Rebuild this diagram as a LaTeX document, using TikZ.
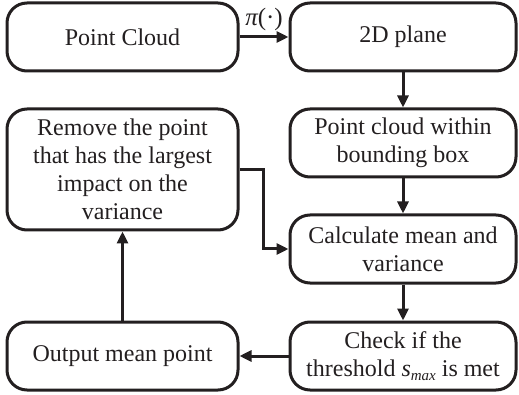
\documentclass[tikz,border=0pt]{standalone}
\usepackage{fontspec}
\setmainfont{Liberation Serif}
\usetikzlibrary{arrows.meta}
\definecolor{ink}{RGB}{35,31,32}
\begin{document}
\begin{tikzpicture}[x=1pt,y=-1pt,
  box/.style={draw=ink, line width=3pt, rounded corners=20pt, text=ink,
    align=center, inner sep=0pt, font=\fontsize{24}{28}\selectfont},
  lbox/.style={box, minimum width=231pt, minimum height=68pt},
  rbox/.style={box, minimum width=226pt, minimum height=68pt},
  flow/.style={draw=ink, line width=3pt,
    -{Triangle[length=12pt,width=11pt]}}]
\useasboundingbox (0,0) rectangle (519,395);

\node[lbox] (pc)     at (122.5,37) {Point Cloud};
\node[rbox] (plane)  at (403,37)   {2D plane};
\node[rbox] (bbox)   at (403,143)  {Point cloud within\\bounding box};
\node[rbox] (calc)   at (403,249)  {Calculate mean and\\variance};
\node[rbox] (check)  at (403,356)  {Check if the\\threshold {\itshape s}\raisebox{-0.35ex}{\fontsize{15}{15}\selectfont\itshape max} is met};
\node[lbox] (out)    at (122.5,356) {Output mean point};
\node[box, minimum width=231pt, minimum height=121pt] (remove) at (122.5,169.5)
  {Remove the point\\that has the largest\\impact on the\\variance};

\draw[flow] (pc) -- node[above=1pt, text=ink, font=\fontsize{25}{28}\selectfont]
  {{\itshape π}(·)} (plane);
\draw[flow] (plane) -- (bbox);
\draw[flow] (bbox) -- (calc);
\draw[flow] (calc) -- (check);
\draw[flow] (check) -- (out);
\draw[flow] (out) -- (remove);
\coordinate (elbow) at (263,170);
\draw[flow] (remove.east |- elbow) -- (elbow) |- (calc.west);
\end{tikzpicture}
\end{document}
